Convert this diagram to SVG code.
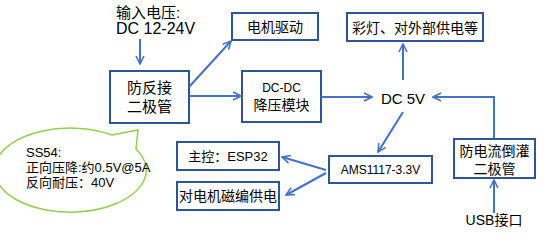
<svg xmlns="http://www.w3.org/2000/svg" width="554" height="240" viewBox="0 0 554 240">
<style>
.box{fill:#fff;stroke:#2F5597;stroke-width:2}
.t{font-family:"Liberation Sans","Noto Sans CJK SC",sans-serif;fill:#000;text-anchor:middle}
.l{font-family:"Liberation Sans","Noto Sans CJK SC",sans-serif;fill:#000;text-anchor:start}
.c{stroke:#4472C4;stroke-width:2;fill:none;marker-end:url(#ah)}
</style>
<defs>
<marker id="ah" viewBox="0 0 10 10" refX="9" refY="5" markerWidth="5" markerHeight="5" orient="auto" markerUnits="strokeWidth">
<path d="M1,1 L9,5 L1,9" fill="none" stroke="#4472C4" stroke-width="1.6"/>
</marker>
</defs>
<rect width="554" height="240" fill="#fff"/>
<g id="input">
<text class="l" x="116" y="18" font-size="15">输入电压:</text>
<text class="l" x="116" y="34" font-size="16">DC 12-24V</text>
</g>
<g id="motor"><rect class="box" x="232" y="13" width="86" height="27"/><text class="t" x="275" y="32" font-size="14">电机驱动</text></g>
<g id="lights"><rect class="box" x="347" y="13" width="136" height="28"/><text class="t" x="415" y="33" font-size="14">彩灯、对外部供电等</text></g>
<g id="diode"><rect class="box" x="110" y="71" width="79" height="52"/><text class="t" x="149.5" y="93" font-size="15">防反接</text><text class="t" x="149.5" y="112" font-size="15">二极管</text></g>
<g id="dcdc"><rect class="box" x="242" y="71" width="79" height="51"/><text class="t" x="281.5" y="92" font-size="12">DC-DC</text><text class="t" x="281.5" y="110" font-size="14">降压模块</text></g>
<g id="dc5v"><text class="t" x="403" y="104" font-size="15">DC 5V</text></g>
<g id="ams"><rect class="box" x="329" y="156" width="103" height="27"/><text class="t" x="380.5" y="174" font-size="12">AMS1117-3.3V</text></g>
<g id="esp"><rect class="box" x="177" y="142" width="102" height="28"/><text class="t" x="228" y="161" font-size="13">主控：ESP32</text></g>
<g id="enc"><rect class="box" x="177" y="182" width="102" height="28"/><text class="t" x="228" y="201" font-size="14">对电机磁编供电</text></g>
<g id="backflow"><rect class="box" x="454" y="139" width="81" height="39"/><text class="t" x="494.5" y="156" font-size="14">防电流倒灌</text><text class="t" x="494.5" y="174" font-size="14">二极管</text></g>
<g id="usb"><text class="t" x="494" y="225" font-size="14">USB接口</text></g>
<g id="note">
<path d="M112,135 L138,130 L136,149 A76,42 0 1 1 112,135 Z" fill="#fff" stroke="#92D050" stroke-width="1.5"/>
<text class="l" x="26" y="157" font-size="13">SS54:</text>
<text class="l" x="26" y="172" font-size="13">正向压降:约0.5V@5A</text>
<text class="l" x="26" y="187" font-size="13">反向耐压：40V</text>
</g>
<g id="connectors">
<path class="c" d="M140,39 L140,64"/>
<path class="c" d="M189,87 L231,41"/>
<path class="c" d="M189,96 L241,96"/>
<path class="c" d="M321,97 L372,97"/>
<path class="c" d="M403,80 L403,44"/>
<path class="c" d="M494,138 L494,97 L433,97"/>
<path class="c" d="M494,213 L494,180"/>
<path class="c" d="M403,112 L378,152"/>
<path class="c" d="M326,170 L282,157"/>
<path class="c" d="M326,173 L286,195"/>
</g>
</svg>
